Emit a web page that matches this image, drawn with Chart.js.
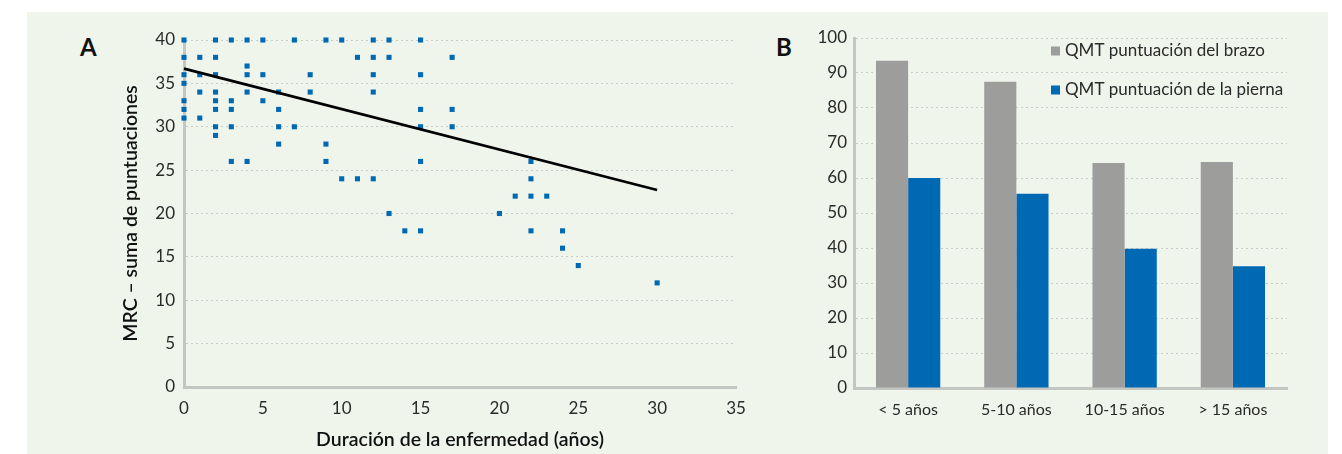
<!DOCTYPE html>
<html>
<head>
<meta charset="utf-8">
<script src="https://cdn.jsdelivr.net/npm/chart.js@4/dist/chart.umd.min.js"></script>
<style>
  html, body { margin: 0; padding: 0; background: #ffffff; }
  body { width: 1342px; height: 454px; position: relative; overflow: hidden; font-family: Lato, "Open Sans", sans-serif; }
  #panel { position: absolute; left: 27px; top: 12px; width: 1301px; height: 442px; background: #f0f5ec; }
  .lbl { position: absolute; font-family: Lato, sans-serif; font-weight: 700; font-size: 24px; color: #111; line-height: 1; }
  #wrapA { position: absolute; left: 27px; top: 12px; width: 733px; height: 442px; }
  #wrapB { position: absolute; left: 760px; top: 12px; width: 568px; height: 442px; }
</style>
</head>
<body>
<div id="panel"></div>
<div class="lbl" style="left:80px; top:35px;">A</div>
<div class="lbl" style="left:776px; top:35px;">B</div>
<div id="wrapA"><canvas id="chartA" width="733" height="442"></canvas></div>
<div id="wrapB"><canvas id="chartB" width="568" height="442"></canvas></div>
<script>
// ---- Panel A data: disease duration (years) vs MRC sum score ----
const durations = [
  0,2,3,4,5,7,9,10,12,13,15,
  0,1,2,11,12,13,17,
  4,
  0,1,2,4,5,8,12,15,
  0,
  1,2,4,6,8,12,
  0,2,3,5,
  0,2,3,6,15,17,
  0,1,
  2,3,6,7,15,17,
  2,
  6,9,
  3,4,9,15,22,
  10,11,12,22,
  21,22,23,
  13,20,
  14,15,22,24,
  24,
  25,
  30
];
const mrcScores = [
  40,40,40,40,40,40,40,40,40,40,40,
  38,38,38,38,38,38,38,
  37,
  36,36,36,36,36,36,36,36,
  35,
  34,34,34,34,34,34,
  33,33,33,33,
  32,32,32,32,32,32,
  31,31,
  30,30,30,30,30,30,
  29,
  28,28,
  26,26,26,26,26,
  24,24,24,24,
  22,22,22,
  20,20,
  18,18,18,18,
  16,
  14,
  12
];
const trendX = [0, 30];
const trendY = [36.7, 22.7];
const xTicksA = [0, 5, 10, 15, 20, 25, 30, 35];
const yTicksA = [0, 5, 10, 15, 20, 25, 30, 35, 40];

// ---- Panel B data: QMT scores by disease duration ----
const durationGroups = ['< 5 años', '5-10 años', '10-15 años', '> 15 años'];
const armScores = [93.5, 87.5, 64.3, 64.6];
const legScores = [60, 55.5, 39.8, 34.8];
const seriesNames = ['QMT puntuación del brazo', 'QMT puntuación de la pierna'];

const FONT = 'Lato, "Open Sans", sans-serif';
const TXT = '#2a2a2a';
const GRID = '#c9cbc6';
const AXIS = '#c4c6c2';
const BLUE = '#0069b4';
const GRAY = '#9d9d9c';

// ---------------- Chart A ----------------
new Chart(document.getElementById('chartA'), {
  type: 'scatter',
  data: {
    datasets: [
      {
        type: 'scatter',
        data: durations.map((d, i) => ({ x: d, y: mrcScores[i] })),
        pointStyle: 'rect',
        pointRadius: 3.6,
        pointHoverRadius: 3.6,
        backgroundColor: BLUE,
        borderWidth: 0,
        clip: false,
        order: 2
      },
      {
        type: 'line',
        data: trendX.map((x, i) => ({ x: x, y: trendY[i] })),
        borderColor: '#000000',
        borderWidth: 2.6,
        pointRadius: 0,
        fill: false,
        showLine: true,
        clip: false,
        order: 1
      }
    ]
  },
  options: {
    responsive: false,
    animation: false,
    events: [],
    layout: { padding: { top: 28, right: 24, bottom: 0, left: 89 } },
    plugins: { legend: { display: false }, tooltip: { enabled: false } },
    scales: {
      x: {
        type: 'linear',
        min: 0, max: 35,
        afterBuildTicks: (s) => { s.ticks = xTicksA.map(v => ({ value: v })); },
        afterFit: (s) => { s.height = 67; },
        grid: { display: true, drawOnChartArea: false, drawTicks: false },
        border: { display: true, color: AXIS, width: 3 },
        ticks: { color: TXT, font: { family: FONT, size: 17 }, padding: 11, maxRotation: 0 },
        title: {
          display: true,
          text: 'Duración de la enfermedad (años)',
          color: '#111',
          font: { family: FONT, size: 19.5, weight: '600' },
          padding: { top: 4, bottom: 3 }
        }
      },
      y: {
        min: 0, max: 40,
        afterBuildTicks: (s) => { s.ticks = yTicksA.map(v => ({ value: v })); },
        afterFit: (s) => { s.width = 68; },
        grid: { color: GRID, lineWidth: 1, drawTicks: false },
        border: { display: true, color: AXIS, width: 3, dash: [2, 3] },
        ticks: { color: TXT, font: { family: FONT, size: 17 }, padding: 9 },
        title: {
          display: true,
          text: 'MRC – suma de puntuaciones',
          color: '#111',
          font: { family: FONT, size: 19.5, weight: '600' },
          padding: { top: 3, bottom: 4 }
        }
      }
    }
  }
});

// ---------------- Chart B ----------------
const legendPlugin = {
  id: 'innerLegend',
  afterDraw(chart) {
    const ctx = chart.ctx;
    const ds = chart.data.datasets;
    const x0 = chart.chartArea.left + 197;
    ctx.save();
    ctx.font = '17px ' + FONT;
    ctx.textBaseline = 'middle';
    ds.forEach((d, i) => {
      const y = chart.chartArea.top + 13 + i * 39;
      ctx.fillStyle = d.backgroundColor;
      ctx.fillRect(x0, y - 4.5, 9, 9);
      ctx.fillStyle = TXT;
      ctx.fillText(d.label, x0 + 14, y);
    });
    ctx.restore();
  }
};

new Chart(document.getElementById('chartB'), {
  type: 'bar',
  data: {
    labels: durationGroups,
    datasets: [
      { label: seriesNames[0], data: armScores, backgroundColor: GRAY, borderWidth: 0 },
      { label: seriesNames[1], data: legScores, backgroundColor: BLUE, borderWidth: 0 }
    ]
  },
  options: {
    responsive: false,
    animation: false,
    events: [],
    layout: { padding: { top: 26, right: 41, bottom: 0, left: 0 } },
    plugins: { legend: { display: false }, tooltip: { enabled: false } },
    datasets: { bar: { categoryPercentage: 0.594, barPercentage: 1.0 } },
    scales: {
      x: {
        afterFit: (s) => { s.height = 66; },
        grid: { display: true, drawOnChartArea: false, drawTicks: false },
        border: { display: true, color: AXIS, width: 3 },
        ticks: { color: TXT, font: { family: FONT, size: 16 }, padding: 12, maxRotation: 0 }
      },
      y: {
        min: 0, max: 100,
        ticks: { stepSize: 10, color: TXT, font: { family: FONT, size: 17 }, padding: 7 },
        afterFit: (s) => { s.width = 94; },
        grid: { color: GRID, lineWidth: 1, drawTicks: false },
        border: { display: true, color: AXIS, width: 3, dash: [2, 3] }
      }
    }
  },
  plugins: [legendPlugin]
});
</script>
</body>
</html>
